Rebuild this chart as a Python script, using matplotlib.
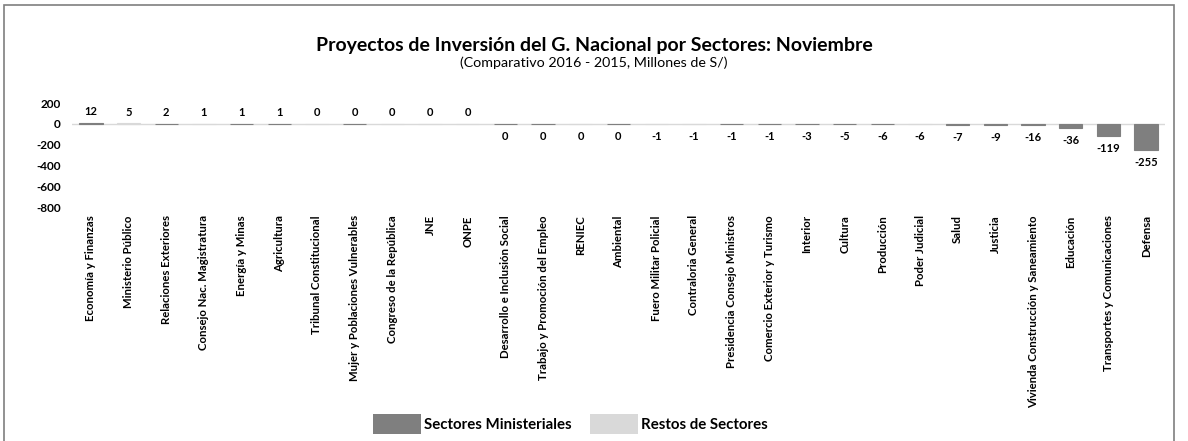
import matplotlib.pyplot as plt
from matplotlib.patches import Rectangle, Patch

plt.rcParams['font.family'] = ['Lato', 'DejaVu Sans']

sectores = ["Economía y Finanzas", "Ministerio Público", "Relaciones Exteriores",
            "Consejo Nac. Magistratura", "Energía y Minas", "Agricultura",
            "Tribunal Constitucional", "Mujer y Poblaciones Vulnerables",
            "Congreso de la República", "JNE", "ONPE",
            "Desarrollo e Inclusión Social", "Trabajo y Promoción del Empleo",
            "RENIEC", "Ambiental", "Fuero Militar Policial", "Contraloria General",
            "Presidencia Consejo Ministros", "Comercio Exterior y Turismo",
            "Interior", "Cultura", "Producción", "Poder Judicial", "Salud",
            "Justicia", "Vivienda Construcción y Saneamiento", "Educación",
            "Transportes y Comunicaciones", "Defensa"]
variacion = [12, 5, 2, 1, 1, 1, 0.3, 0.3, 0.3, 0.3, 0.3,
             -0.3, -0.3, -0.3, -0.3, -1, -1, -1, -1, -3, -5, -6, -6, -7, -9,
             -16, -36, -119, -255]
# True = sector ministerial, False = resto de sectores
ministerial = [True, False, True, False, True, True, False, True, False, False, False,
               True, True, False, True, False, False, True, True, True, True, True,
               False, True, True, True, True, True, True]

c_min = "#7f7f7f"
c_rest = "#d9d9d9"

fig = plt.figure(figsize=(11.88, 4.41), dpi=100)
ax = fig.add_axes([72/1188, 1 - 207/441, 1093/1188, 104/441])

x = list(range(len(sectores)))
colors = [c_min if m else c_rest for m in ministerial]
ax.bar(x, variacion, width=0.62, color=colors, edgecolor=colors, linewidth=0.8, zorder=2)
ax.axhline(0, color="#d9d9d9", linewidth=1, zorder=1)

for xi, v in zip(x, variacion):
    txt = str(int(round(v)))
    off = 8 if v >= 0 else -9
    ax.annotate(txt, (xi, v), xytext=(0, off), textcoords="offset points",
                ha="center", va="center", fontsize=8, fontweight="bold")

ax.set_xlim(-0.5, len(sectores) - 0.5)
ax.set_ylim(-800, 200)
ax.set_yticks([200, 0, -200, -400, -600, -800])
ax.set_yticklabels(["200", "0", "-200", "-400", "-600", "-800"], fontsize=8.5, fontweight="bold")
ax.set_xticks(x)
ax.set_xticklabels(sectores, rotation=90, fontsize=8.2, fontweight="bold", va="top", ha="center")
ax.tick_params(axis="both", length=0)
ax.tick_params(axis="x", pad=6)
ax.tick_params(axis="y", pad=8)
for s in ax.spines.values():
    s.set_visible(False)

fig.text(0.5, 1 - 45/441, "Proyectos de Inversión del G. Nacional por Sectores: Noviembre",
         ha="center", va="center", fontsize=14, fontweight="bold")
fig.text(0.5, 1 - 63/441, "(Comparativo 2016 - 2015, Millones de S/)",
         ha="center", va="center", fontsize=10.3)

handles = [Patch(facecolor=c_min, label="Sectores Ministeriales"),
           Patch(facecolor=c_rest, label="Restos de Sectores")]
fig.legend(handles=handles, loc="center", bbox_to_anchor=(0.48, 1 - 424/441), ncol=2,
           frameon=False, prop={"weight": "bold", "size": 10.8},
           handlelength=3.2, handleheight=1.6, handletextpad=0.2, columnspacing=1.2)

fig.patches.append(Rectangle((4/1188, -0.01), 1170/1188, 1 - 5/441 + 0.01,
                             transform=fig.transFigure, fill=False,
                             edgecolor="#7f7f7f", linewidth=1.2))

fig.savefig("out.png", dpi=100)
